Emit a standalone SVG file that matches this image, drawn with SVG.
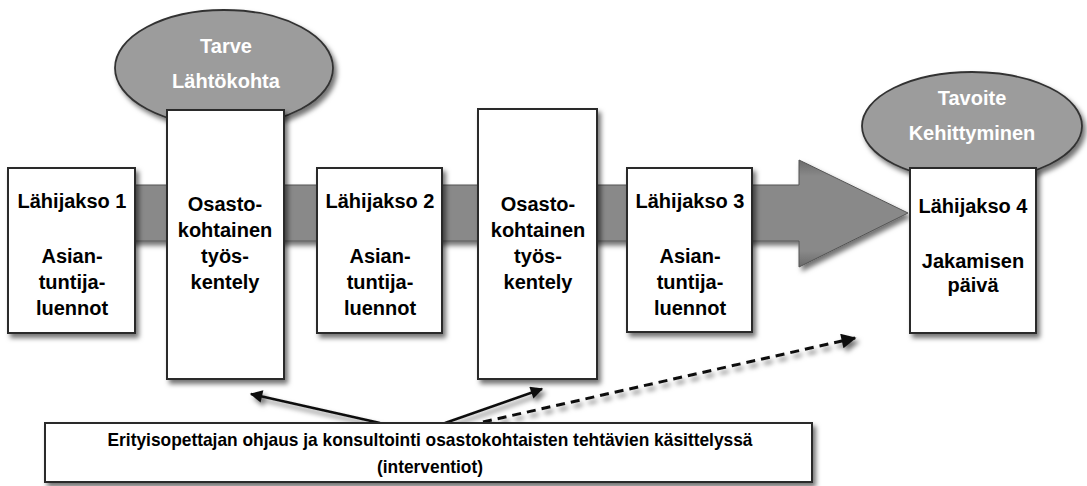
<svg xmlns="http://www.w3.org/2000/svg" width="1087" height="486" viewBox="0 0 1087 486">
<defs>
<style>
.box{fill:#ffffff;stroke:#2a2a2a;stroke-width:2;}
.oval{fill:#9c9c9c;stroke:#333333;stroke-width:1.8;}
.t{font-family:"Liberation Sans",Arial,sans-serif;font-weight:bold;font-size:20px;fill:#000;text-anchor:middle;}
.w{fill:#ffffff;}
.b{font-size:19px;}
.conn{stroke:#111;stroke-width:2.5;fill:none;}
.dash{stroke-dasharray:9 6;stroke-width:3;}
</style>
<filter id="sh" x="-20%" y="-20%" width="140%" height="140%">
<feDropShadow dx="3" dy="4" stdDeviation="2.5" flood-color="#000" flood-opacity="0.55"/>
</filter>
<linearGradient id="band" x1="0" y1="0" x2="0" y2="1">
<stop offset="0" stop-color="#6a6a6a"/>
<stop offset="0.15" stop-color="#898989"/>
<stop offset="0.85" stop-color="#898989"/>
<stop offset="1" stop-color="#6a6a6a"/>
</linearGradient>
<marker id="ah" viewBox="0 0 10 10" refX="9" refY="5" markerWidth="5.5" markerHeight="5" markerUnits="strokeWidth" orient="auto">
<path d="M0,0 L10,5 L0,10 z" fill="#111"/>
</marker>
</defs>
<rect width="1087" height="486" fill="#ffffff"/>

<g id="flow-arrow">
<path d="M20,185 L799,185 L799,160 L908,213 L799,267 L799,241 L20,241 z" fill="url(#band)" stroke="#555" stroke-width="1" filter="url(#sh)"/>
</g>

<g id="tarve">
<ellipse cx="224" cy="68" rx="109" ry="58" class="oval" filter="url(#sh)"/>
<text class="t w" x="226" y="53">Tarve</text>
<text class="t w" x="226" y="88">Lähtökohta</text>
</g>

<g id="tavoite">
<ellipse cx="972" cy="126" rx="110" ry="54" class="oval" filter="url(#sh)"/>
<text class="t w" x="972" y="105">Tavoite</text>
<text class="t w" x="972" y="140">Kehittyminen</text>
</g>

<g id="lahijakso1">
<rect x="8" y="168" width="127" height="165" class="box" filter="url(#sh)"/>
<text class="t" x="72" y="208">Lähijakso 1</text>
<text class="t" x="72" y="263">Asian-</text>
<text class="t" x="72" y="289">tuntija-</text>
<text class="t" x="72" y="315">luennot</text>
</g>

<g id="osasto1">
<rect x="167" y="110" width="117" height="269" class="box" filter="url(#sh)"/>
<text class="t" x="225" y="211">Osasto-</text>
<text class="t" x="225" y="237">kohtainen</text>
<text class="t" x="225" y="263">työs-</text>
<text class="t" x="225" y="289">kentely</text>
</g>

<g id="lahijakso2">
<rect x="317" y="168" width="125" height="165" class="box" filter="url(#sh)"/>
<text class="t" x="380" y="208">Lähijakso 2</text>
<text class="t" x="380" y="263">Asian-</text>
<text class="t" x="380" y="289">tuntija-</text>
<text class="t" x="380" y="315">luennot</text>
</g>

<g id="osasto2">
<rect x="478" y="109" width="119" height="270" class="box" filter="url(#sh)"/>
<text class="t" x="538" y="211">Osasto-</text>
<text class="t" x="538" y="237">kohtainen</text>
<text class="t" x="538" y="263">työs-</text>
<text class="t" x="538" y="289">kentely</text>
</g>

<g id="lahijakso3">
<rect x="627" y="168" width="125" height="164" class="box" filter="url(#sh)"/>
<text class="t" x="690" y="208">Lähijakso 3</text>
<text class="t" x="690" y="263">Asian-</text>
<text class="t" x="690" y="289">tuntija-</text>
<text class="t" x="690" y="315">luennot</text>
</g>

<g id="lahijakso4">
<rect x="910" y="168" width="126" height="165" class="box" filter="url(#sh)"/>
<text class="t" x="973" y="213">Lähijakso 4</text>
<text class="t" x="973" y="268">Jakamisen</text>
<text class="t" x="973" y="292">päivä</text>
</g>

<g id="connectors">
<line x1="380" y1="423" x2="251" y2="394" class="conn" marker-end="url(#ah)" filter="url(#sh)"/>
<line x1="445" y1="423" x2="542" y2="389" class="conn" marker-end="url(#ah)" filter="url(#sh)"/>
<line x1="483" y1="422" x2="855" y2="338" class="conn dash" marker-end="url(#ah)" filter="url(#sh)"/>
</g>

<g id="erityisopettaja">
<rect x="45" y="423" width="767" height="59" class="box" filter="url(#sh)"/>
<text class="t b" x="430" y="446" textLength="645" lengthAdjust="spacingAndGlyphs">Erityisopettajan ohjaus ja konsultointi osastokohtaisten tehtävien käsittelyssä</text>
<text class="t b" x="430" y="473" textLength="106" lengthAdjust="spacingAndGlyphs">(interventiot)</text>
</g>
</svg>
